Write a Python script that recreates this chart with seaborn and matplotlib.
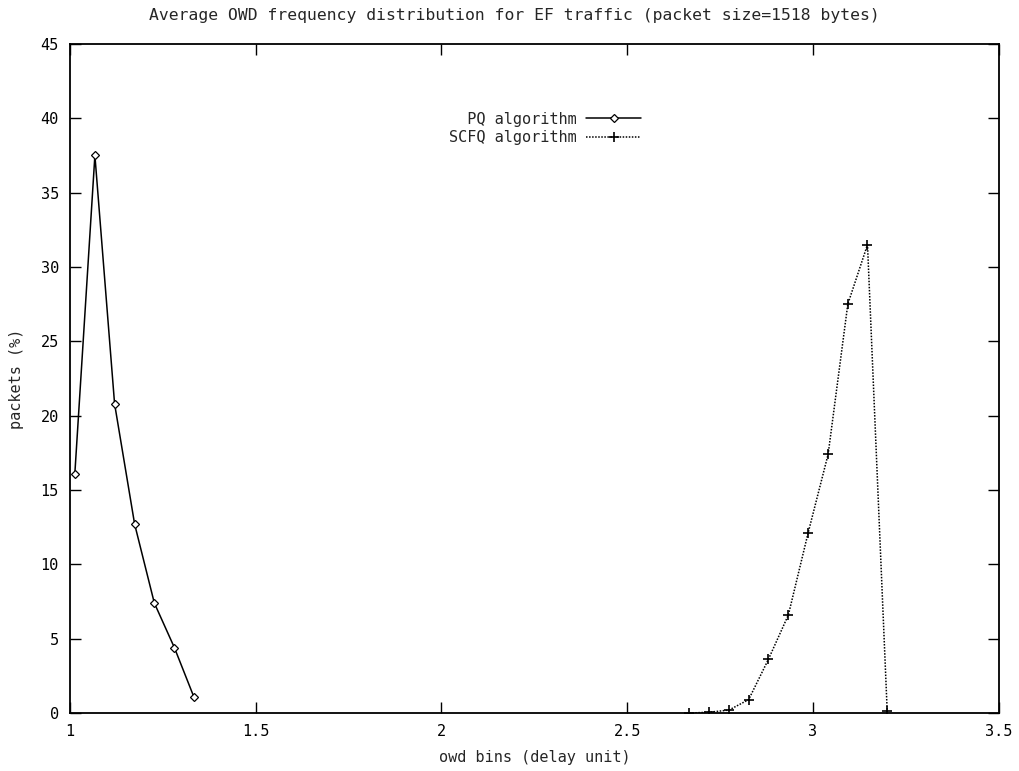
"""Average OWD frequency distribution for EF traffic, PQ vs SCFQ (gnuplot-style look)."""
import matplotlib

matplotlib.use("Agg")
import matplotlib.pyplot as plt
import pandas as pd
import seaborn as sns

# values
pq_bins = [1.013, 1.067, 1.120, 1.174, 1.227, 1.281, 1.334]
pq_packets = [16.1, 37.5, 20.8, 12.7, 7.4, 4.4, 1.05]

scfq_bins = [2.667, 2.720, 2.774, 2.827, 2.880, 2.934, 2.987, 3.041, 3.094, 3.147, 3.200]
scfq_packets = [0.0, 0.05, 0.2, 0.9, 3.6, 6.6, 12.1, 17.4, 27.5, 31.5, 0.15]

series_names = ["PQ algorithm", "SCFQ algorithm"]
x_ticks = [1, 1.5, 2, 2.5, 3, 3.5]
y_ticks = list(range(0, 50, 5))

TITLE = "Average OWD frequency distribution for EF traffic (packet size=1518 bytes)"
XLABEL = "owd bins (delay unit)"
YLABEL = "packets (%)"


def main():
    sns.set_style("ticks")
    plt.rcParams["font.family"] = ["DejaVu Sans Mono", "DejaVu Sans"]

    df = pd.concat([
        pd.DataFrame({"bin": pq_bins, "pct": pq_packets, "algo": series_names[0]}),
        pd.DataFrame({"bin": scfq_bins, "pct": scfq_packets, "algo": series_names[1]}),
    ], ignore_index=True)

    fig = plt.figure(figsize=(10.19, 7.71), dpi=100)
    ax = fig.add_axes([0.0687, 0.0752, 0.9113, 0.8678])

    # PQ: solid line with small open diamonds
    sns.lineplot(data=df[df.algo == series_names[0]], x="bin", y="pct", ax=ax,
                 color="black", linewidth=1.1, marker="D", markersize=4.5,
                 markerfacecolor="white", markeredgecolor="black", markeredgewidth=0.9,
                 label="  " + series_names[0], legend=False)
    # SCFQ: dotted line with + markers
    sns.lineplot(data=df[df.algo == series_names[1]], x="bin", y="pct", ax=ax,
                 color="black", linewidth=1.1, linestyle=(0, (1, 1)), marker="+",
                 markersize=7, markeredgewidth=1.2, markeredgecolor="black",
                 label=series_names[1], legend=False)

    ax.set_xlim(1, 3.5)
    ax.set_ylim(0, 45)
    ax.set_xticks(x_ticks)
    ax.set_xticklabels([f"{t:g}" for t in x_ticks])
    ax.set_yticks(y_ticks)
    ax.tick_params(direction="in", length=8, width=1, top=True, right=True,
                   labelsize=11, pad=8, colors="black")
    for sp in ax.spines.values():
        sp.set_visible(True)
        sp.set_linewidth(1.3)
        sp.set_color("black")

    fig.text(0.505, 0.989, TITLE, ha="center", va="top", fontsize=11.8)
    ax.set_xlabel(XLABEL, fontsize=11, labelpad=8)
    ax.set_ylabel(YLABEL, fontsize=11, labelpad=12)

    ax.legend(loc="upper left", bbox_to_anchor=(0.4, 0.91), frameon=False,
              markerfirst=False, fontsize=11, handlelength=3.6,
              handletextpad=0.6, labelspacing=0.2, borderpad=0)

    fig.savefig("out.png", dpi=100)
    plt.close(fig)


if __name__ == "__main__":
    main()
